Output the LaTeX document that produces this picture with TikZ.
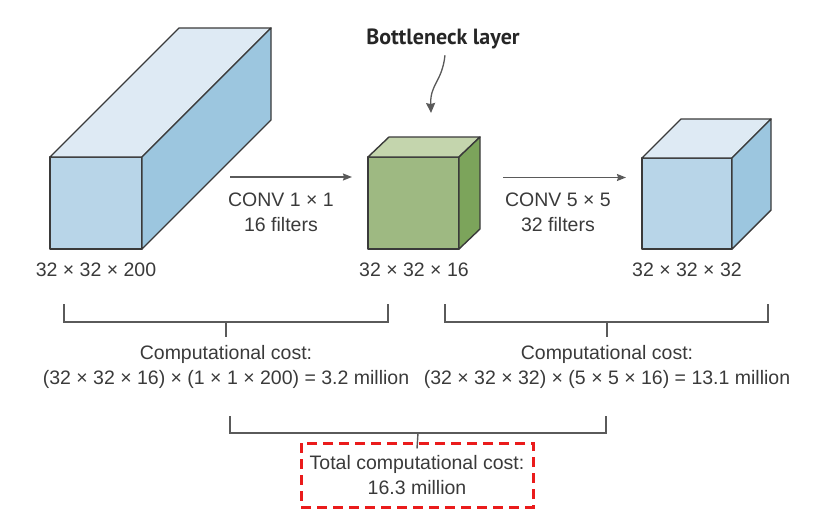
\documentclass[tikz,border=0pt]{standalone}
\usepackage{fontspec}
\setmainfont{Liberation Sans}
\newfontfamily\calloutfont{PT Sans}
\usetikzlibrary{arrows.meta, positioning}
\definecolor{bxfront}{HTML}{B8D5E8}
\definecolor{bxtop}{HTML}{DEEAF4}
\definecolor{bxside}{HTML}{9CC6DF}
\definecolor{gnfront}{HTML}{9EB982}
\definecolor{gntop}{HTML}{C4D5AD}
\definecolor{gnside}{HTML}{7CA45B}
\definecolor{edgegray}{HTML}{3A3A3A}
\definecolor{txtgray}{HTML}{3A3A3A}
\definecolor{linegray}{HTML}{5A5A5A}
\definecolor{totalred}{HTML}{EA1B1B}

\begin{document}
\begin{tikzpicture}[x=1pt, y=-1pt, font=\fontsize{19.5}{25}\selectfont, text=txtgray,
    face/.style={draw=edgegray, line width=1.4pt, line join=round, inner sep=0pt, outer sep=0pt},
    flow/.style={-{Stealth[length=9pt, width=7pt, inset=1pt]}, line width=1.4pt, draw=linegray},
    brace/.style={draw=linegray, line width=1.4pt},
    dims/.style={inner sep=0pt},
    cost/.style={align=center, inner sep=0pt}]
  \useasboundingbox (0,0) rectangle (831,512);
  % input volume
  \node[face, fill=bxfront, minimum width=92, minimum height=92] (inp) at (96,203) {};
  \filldraw[face, fill=bxtop] (inp.north west) -- ++(129,-129) -- ++(92,0) -- (inp.north east) -- cycle;
  \filldraw[face, fill=bxside] (inp.north east) -- ++(129,-129) -- ++(0,92) -- (inp.south east) -- cycle;
  \node[dims] (inpdim) at (96,270) {32 × 32 × 200};
  % bottleneck
  \node[face, fill=gnfront, minimum width=91, minimum height=92] (neck) at (413.5,203) {};
  \filldraw[face, fill=gntop] (neck.north west) -- ++(21,-20) -- ++(91,0) -- (neck.north east) -- cycle;
  \filldraw[face, fill=gnside] (neck.north east) -- ++(21,-20) -- ++(0,92) -- (neck.south east) -- cycle;
  \node[dims] (neckdim) at (414,270) {32 × 32 × 16};
  % output volume
  \node[face, fill=bxfront, minimum width=90, minimum height=91] (outp) at (687,203.5) {};
  \filldraw[face, fill=bxtop] (outp.north west) -- ++(39,-39) -- ++(90,0) -- (outp.north east) -- cycle;
  \filldraw[face, fill=bxside] (outp.north east) -- ++(39,-39) -- ++(0,91) -- (outp.south east) -- cycle;
  \node[dims] (outdim) at (687,270) {32 × 32 × 32};
  % convolutions
  \draw[flow] ([shift={(-138,-26)}]neck.west) -- ([shift={(-16,-26)}]neck.west);
  \node[cost] (conv1) at (281,212) {CONV 1 × 1\\16 filters};
  \draw[flow] ([shift={(-139,-26)}]outp.west) -- ([shift={(-16,-26)}]outp.west);
  \node[cost] (conv5) at (558,212) {CONV 5 × 5\\32 filters};
  % callout
  \node[font=\calloutfont\fontsize{22}{26}\selectfont\bfseries, text=black!85, inner sep=0pt] (bneck) at (443,39) {Bottleneck layer};
  \draw[linegray, line width=1.3pt, -{Stealth[length=10pt, width=9pt, inset=1pt]}]
    ([shift={(2,6)}]bneck.south) .. controls (442,82) and (430,84) .. ([shift={(17.5,-44)}]neck.north);
  % costs
  \node[cost] (costa) at (226,367) {Computational cost:\\(32 × 32 × 16) × (1 × 1 × 200) = 3.2 million};
  \node[cost] (costb) at (607,367) {Computational cost:\\(32 × 32 × 32) × (5 × 5 × 16) = 13.1 million};
  \draw[brace] (64,304) -- (64,322) -- (388,322) -- (388,304);
  \draw[brace] (226,322) -- ([yshift=8]costa.north);
  \draw[brace] (445,304) -- (445,322) -- (768,322) -- (768,304);
  \draw[brace] (607,322) -- ([yshift=8]costb.north);
  % total
  \node[cost, draw=totalred, line width=3pt, dash pattern=on 10pt off 6pt, minimum width=232, minimum height=64] (total) at (417,475) {Total computational cost:\\16.3 million};
  \draw[brace] (230,416) -- (230,433) -- (606,433) -- (606,416);
  \draw[brace] (418,433) -- ([yshift=-7]total.north);
\end{tikzpicture}
\end{document}
